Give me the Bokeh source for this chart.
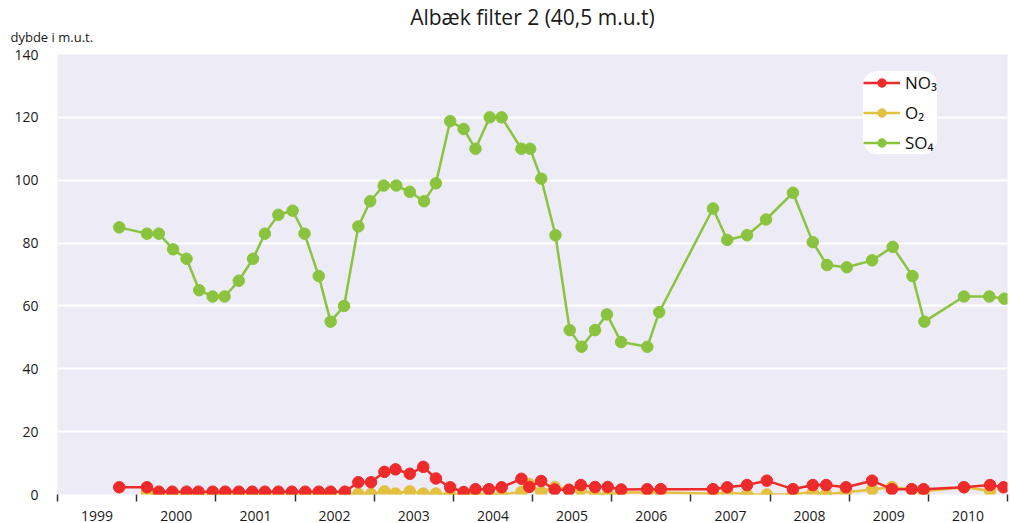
from bokeh.plotting import figure
from bokeh.models import Range1d, FixedTicker, Legend, LegendItem, Title
from bokeh.embed import file_html
from bokeh.resources import INLINE

# ---------------- data (decimal years) ----------------
so4_dates = [1999.78, 2000.13, 2000.28, 2000.46, 2000.63, 2000.79, 2000.96, 2001.11, 2001.29, 2001.47,
             2001.62, 2001.79, 2001.97, 2002.12, 2002.30, 2002.45, 2002.62, 2002.80, 2002.95, 2003.12,
             2003.28, 2003.45, 2003.63, 2003.78, 2003.96, 2004.13, 2004.28, 2004.46, 2004.61, 2004.86,
             2004.97, 2005.11, 2005.29, 2005.47, 2005.62, 2005.79, 2005.94, 2006.12, 2006.45, 2006.60,
             2007.28, 2007.46, 2007.71, 2007.95, 2008.29, 2008.54, 2008.72, 2008.97, 2009.29, 2009.55,
             2009.80, 2009.95, 2010.45, 2010.77, 2010.96]
so4_vals = [85, 83, 83, 78, 75, 65, 63, 63, 68, 75,
            83, 89, 90.3, 83, 69.5, 55, 60, 85.3, 93.3, 98.3,
            98.3, 96.3, 93.3, 99, 118.8, 116.3, 110, 120, 120, 110,
            110, 100.5, 82.5, 52.3, 47, 52.3, 57.3, 48.5, 47, 58,
            91, 81, 82.5, 87.5, 96, 80.3, 73, 72.3, 74.5, 78.8,
            69.5, 55, 63, 63, 62.3]

no3_dates = [1999.78, 2000.13, 2000.28, 2000.45, 2000.63, 2000.78, 2000.96, 2001.12, 2001.29, 2001.46,
             2001.62, 2001.79, 2001.96, 2002.13, 2002.30, 2002.45, 2002.63, 2002.80, 2002.96, 2003.13,
             2003.27, 2003.45, 2003.62, 2003.78, 2003.96, 2004.13, 2004.28, 2004.45, 2004.61, 2004.86,
             2004.96, 2005.11, 2005.28, 2005.46, 2005.61, 2005.79, 2005.95, 2006.12, 2006.45, 2006.62,
             2007.28, 2007.46, 2007.71, 2007.96, 2008.29, 2008.54, 2008.71, 2008.96, 2009.29, 2009.54,
             2009.79, 2009.94, 2010.45, 2010.78, 2010.95]
no3_vals = [2.3, 2.3, 0.9, 0.9, 0.9, 0.9, 0.9, 0.9, 0.9, 0.9,
            0.9, 0.9, 0.9, 0.9, 0.9, 0.9, 0.9, 3.9, 3.9, 7.2,
            8.0, 6.6, 8.8, 5.1, 2.3, 0.8, 1.7, 1.7, 2.3, 5.0,
            2.4, 4.3, 1.6, 1.5, 3.0, 2.4, 2.4, 1.6, 1.7, 1.7,
            1.7, 2.3, 3.0, 4.4, 1.7, 3.0, 3.0, 2.3, 4.4, 1.7,
            1.7, 1.7, 2.3, 3.0, 2.3]

o2_dates = [2000.13, 2000.28, 2000.45, 2000.63, 2000.78, 2000.96, 2001.12, 2001.29, 2001.46,
            2001.62, 2001.79, 2001.96, 2002.13, 2002.30, 2002.45, 2002.63, 2002.80, 2002.96, 2003.13,
            2003.27, 2003.45, 2003.62, 2003.78, 2003.96, 2004.13, 2004.28, 2004.45, 2004.61, 2004.86,
            2004.96, 2005.11, 2005.28, 2005.46, 2005.61, 2005.79, 2005.95, 2006.12, 2006.45, 2006.62,
            2007.28, 2007.46, 2007.71, 2007.96, 2008.29, 2008.54, 2008.71, 2008.96, 2009.29, 2009.54,
            2009.79, 2009.94, 2010.45, 2010.78]
o2_vals = [0.6, 0, 0, 0, 0, 0, 0, 0, 0,
           0, 0, 0, 0, 0, 0, 0, 0.2, 0.2, 1.0,
           0.3, 1.0, 0.3, 0.3, 0, 0.1, 0, 0.1, 0, 0.8,
           3.3, 0.8, 2.4, 1.5, 1.5, 0, 0, 0.6, 0.6, 0.6,
           0.2, 0.6, 0, 0, 0.1, 0.7, 0.1, 0.7, 1.6, 2.4,
           1.6, 1.0, 2.3, 1.2]

year_labels = ["1999", "2000", "2001", "2002", "2003", "2004",
               "2005", "2006", "2007", "2008", "2009", "2010"]
year_bounds = list(range(1999, 2012))
y_ticks = [0, 20, 40, 60, 80, 100, 120, 140]

series_names = ["NO\u2083", "O\u2082", "SO\u2084"]
title_text = "Albæk filter 2 (40,5 m.u.t)"
ylabel_text = "dybde i m.u.t."

# ---------------- layout / styles ----------------
FONT = "Open Sans"
RED = "#EE2A2A"
YELLOW = "#E3C040"
GREEN = "#8AC43F"
BG = "#EDEBF5"

W, H = 1010, 523
B_LEFT, B_RIGHT, B_TOP, B_BOTTOM = 57, 3, 54, 29

p = figure(width=W, height=H, output_backend="svg", toolbar_location=None,
           x_range=Range1d(year_bounds[0], year_bounds[-1]),
           y_range=Range1d(y_ticks[0], y_ticks[-1]),
           min_border_left=B_LEFT, min_border_right=B_RIGHT,
           min_border_top=B_TOP, min_border_bottom=B_BOTTOM,
           background_fill_color=BG, border_fill_color="white", outline_line_color=None,
           title=None)

# y-unit caption (closest to the frame), then the main title above it
sub = Title(text=ylabel_text, align="left", offset=-47, standoff=18,
            text_font=FONT, text_font_size="13px", text_font_style="normal",
            text_color="#1a1a1a")
p.add_layout(sub, "above")
main = Title(text=title_text, align="center", standoff=-29.5,
             text_font=FONT, text_font_size="21px", text_font_style="normal",
             text_color="#1a1a1a")
p.add_layout(main, "above")

# axes
xa = p.xaxis[0]
xa.ticker = FixedTicker(ticks=[b + 0.5 for b in year_bounds[:-1]], minor_ticks=year_bounds)
xa.major_label_overrides = {b + 0.5: lab for b, lab in zip(year_bounds[:-1], year_labels)}
xa.major_tick_out = 0
xa.major_tick_in = 0
xa.minor_tick_out = 7
xa.minor_tick_in = 0
xa.minor_tick_line_color = "#333333"
xa.minor_tick_line_width = 1.5
xa.axis_line_color = None
xa.major_label_standoff = 9
xa.major_label_text_font = FONT
xa.major_label_text_font_size = "14px"
xa.major_label_text_color = "#1a1a1a"

ya = p.yaxis[0]
ya.ticker = FixedTicker(ticks=y_ticks)
ya.major_tick_out = 0
ya.major_tick_in = 0
ya.minor_tick_out = 0
ya.minor_tick_in = 0
ya.axis_line_color = None
ya.major_label_standoff = 19
ya.major_label_text_font = FONT
ya.major_label_text_font_size = "14px"
ya.major_label_text_color = "#1a1a1a"

p.xgrid.visible = False
p.ygrid.grid_line_color = "white"
p.ygrid.grid_line_width = 2

# series
LW = 2.5
SZ = 11.5
l_o2 = p.line(o2_dates, o2_vals, line_color=YELLOW, line_width=LW)
s_o2 = p.scatter(o2_dates, o2_vals, size=SZ, fill_color=YELLOW, line_color=YELLOW)
l_no3 = p.line(no3_dates, no3_vals, line_color=RED, line_width=LW)
s_no3 = p.scatter(no3_dates, no3_vals, size=SZ, fill_color=RED, line_color=RED)
l_so4 = p.line(so4_dates, so4_vals, line_color=GREEN, line_width=LW)
s_so4 = p.scatter(so4_dates, so4_vals, size=SZ, fill_color=GREEN, line_color=GREEN)

legend = Legend(items=[
    LegendItem(label=series_names[0], renderers=[l_no3, s_no3]),
    LegendItem(label=series_names[1], renderers=[l_o2, s_o2]),
    LegendItem(label=series_names[2], renderers=[l_so4, s_so4]),
], location=(806, 340))
legend.background_fill_color = "white"
legend.background_fill_alpha = 1.0
legend.border_line_color = None
legend.border_radius = 14
legend.label_text_font = FONT
legend.label_text_font_size = "17px"
legend.label_text_color = "#111111"
legend.glyph_width = 37
legend.glyph_height = 21
legend.spacing = 7
legend.padding = 14
legend.margin = 0
legend.label_standoff = 5
p.add_layout(legend)

open("out.html", "w").write(file_html(p, INLINE))
